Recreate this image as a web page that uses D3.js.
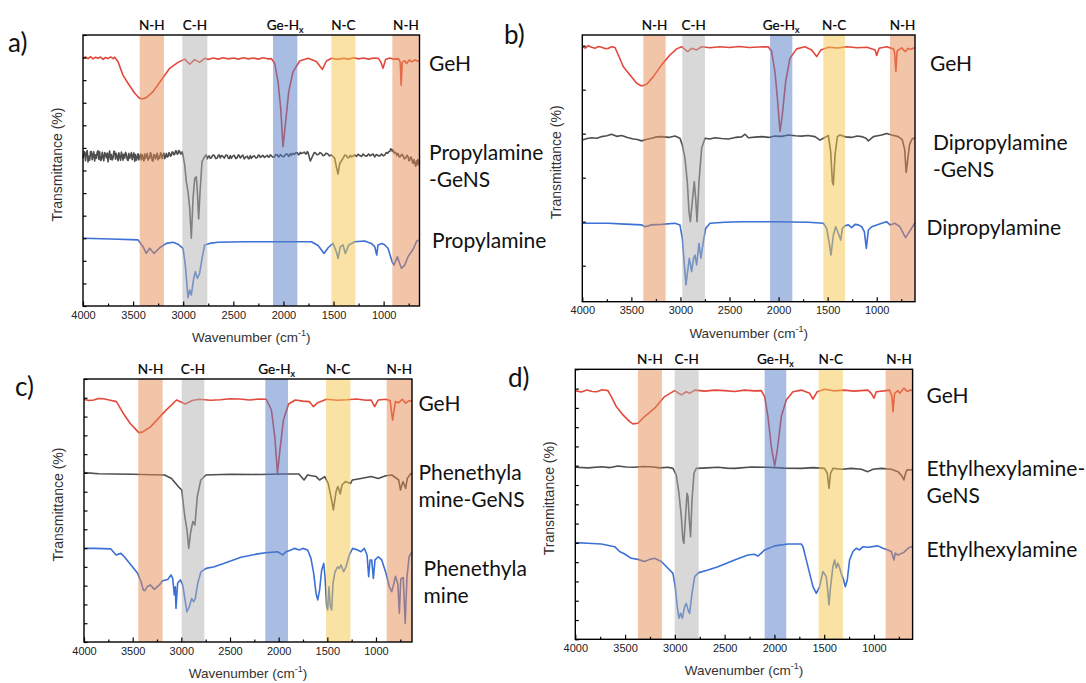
<!DOCTYPE html>
<html>
<head>
<meta charset="utf-8">
<script src="https://cdn.jsdelivr.net/npm/d3@7"></script>
<style>
  html, body { margin: 0; padding: 0; background: #fff; }
  svg { display: block; }
</style>
</head>
<body>
<svg id="chart" width="1086" height="683"></svg>
<script>
// ---------- shared axis values ----------
const xMajorTicks = [4000, 3500, 3000, 2500, 2000, 1500, 1000];
const xMinorTicks = [3750, 3250, 2750, 2250, 1750, 1250, 750];
const yTicksA = [0, 8.33, 16.67, 25, 33.33, 41.67, 50, 58.33, 66.67, 75, 83.33, 91.67, 100];
const yTicksB = [13.5, 30, 46.5, 63, 79.5, 96];
const yTicksCD = [0, 7.14, 14.29, 21.43, 28.57, 35.71, 42.86, 50, 57.14, 64.29, 71.43, 78.57, 85.71, 92.86, 100];

const bandNames = ["N-H", "C-H", "Ge-H", "N-C", "N-H"];
const bandKinds = ["nh", "ch", "ge", "nc", "nh"];

// band limits (cm-1) for each panel
const bandsA = [[3434, 3192], [3009, 2759], [2104, 1861], [1521, 1282], [913, 642]];
const bandsB = [[3378, 3151], [2981, 2750], [2087, 1860], [1544, 1323], [865, 610]];
const bandsC = [[3442, 3192], [2996, 2764], [2137, 1904], [1513, 1263], [890, 630]];
const bandsD = [[3371, 3130], [3002, 2761], [2098, 1881], [1556, 1312], [883, 612]];

// ---------- panel a : propylamine ----------
const gehA = [[4000,91.4],[3975,91.9],[3950,91.3],[3925,92.0],[3900,91.2],[3875,91.8],[3850,91.4],[3825,91.9],[3800,91.0],[3775,91.7],[3750,91.3],[3725,91.9],[3700,91.3],[3684,91.8],[3651,90.2],[3601,85.2],[3551,82.2],[3484,78.5],[3434,76.6],[3400,76.5],[3368,76.9],[3301,79.1],[3218,83.4],[3135,87.7],[3052,89.9],[2985,91.1],[2935,89.2],[2886,90.9],[2836,89.9],[2786,91.4],[2750,91.0],[2700,91.5],[2650,91.1],[2600,91.6],[2550,91.2],[2500,91.5],[2450,91.1],[2400,91.6],[2350,91.2],[2300,91.5],[2250,91.1],[2200,91.6],[2160,91.2],[2120,91.3],[2087,89.5],[2054,82.8],[2027,72.9],[2004,58.8],[1981,66.8],[1947,79.1],[1904,86.5],[1837,90.4],[1754,91.4],[1671,90.2],[1611,87.3],[1571,90.4],[1520,91.4],[1460,91.0],[1400,91.4],[1350,91.1],[1300,91.6],[1250,91.2],[1200,91.5],[1150,91.1],[1100,91.5],[1056,91.4],[1030,90.2],[1006,87.7],[980,91.0],[940,91.5],[900,91.1],[850,91.2],[834,89.9],[825,81.5],[815,89.9],[790,90.5],[770,89.5],[744,90.8],[720,90.1],[687,90.8],[654,90.3],[642,90.5]];
const propGeNS = [[4000,54.5],[3990,57.0],[3983,56.8],[3975,53.6],[3967,56.3],[3958,57.4],[3950,53.2],[3941,55.2],[3933,53.8],[3925,56.9],[3917,57.0],[3908,54.0],[3900,55.7],[3892,56.9],[3884,53.5],[3875,55.8],[3867,54.5],[3858,56.8],[3850,57.3],[3842,54.2],[3834,56.9],[3825,53.7],[3817,53.9],[3808,56.7],[3800,55.1],[3792,53.6],[3784,56.6],[3775,56.1],[3767,54.7],[3758,56.4],[3750,53.2],[3742,55.6],[3734,57.2],[3725,54.1],[3717,55.9],[3709,53.9],[3701,54.5],[3692,57.1],[3684,57.0],[3675,54.2],[3667,56.3],[3658,55.0],[3650,53.6],[3642,56.5],[3634,55.1],[3625,53.8],[3617,56.8],[3609,55.7],[3601,53.8],[3592,56.0],[3584,54.6],[3575,56.7],[3567,56.0],[3558,53.9],[3550,53.7],[3542,56.3],[3534,54.5],[3525,55.4],[3517,56.6],[3509,54.0],[3501,55.5],[3492,56.5],[3484,53.4],[3476,55.9],[3468,53.8],[3459,54.7],[3451,56.2],[3442,53.9],[3434,55.1],[3425,56.1],[3417,53.9],[3409,55.8],[3401,54.5],[3392,53.5],[3384,56.1],[3376,54.4],[3368,55.4],[3359,56.3],[3351,53.8],[3343,55.0],[3335,54.5],[3327,56.6],[3318,55.9],[3310,53.6],[3301,53.5],[3293,55.9],[3285,55.8],[3276,54.3],[3268,55.1],[3260,56.4],[3251,53.9],[3243,55.2],[3235,54.5],[3226,56.5],[3218,56.2],[3210,54.4],[3202,55.7],[3193,56.4],[3185,54.4],[3176,55.1],[3168,56.3],[3159,55.0],[3150,55.2],[3142,56.6],[3135,56.3],[3126,55.3],[3118,55.6],[3110,56.9],[3102,56.7],[3093,55.8],[3085,56.0],[3076,57.3],[3068,57.2],[3059,56.0],[3050,56.4],[3043,57.4],[3035,57.0],[3026,56.1],[3018,56.2],[3010,56.9],[3002,55.7],[2985,52.0],[2969,45.9],[2952,42.2],[2935,36.0],[2919,25.0],[2902,39.7],[2885,47.1],[2869,47.7],[2859,42.2],[2846,32.1],[2832,42.2],[2812,53.3],[2786,55.1],[2772,55.8],[2760,54.3],[2750,55.2],[2740,55.4],[2730,54.5],[2719,54.7],[2705,55.7],[2690,55.6],[2675,54.4],[2660,54.6],[2650,55.6],[2640,55.7],[2630,54.6],[2619,55.5],[2605,55.3],[2590,54.6],[2575,55.7],[2560,55.5],[2550,54.5],[2540,54.4],[2530,55.5],[2520,54.5],[2505,55.3],[2490,55.6],[2475,54.4],[2460,54.8],[2450,55.8],[2440,55.5],[2430,54.6],[2420,55.1],[2405,55.7],[2390,54.3],[2375,55.0],[2360,55.3],[2350,54.4],[2340,54.4],[2330,55.5],[2320,54.5],[2305,55.2],[2290,55.4],[2275,54.6],[2260,54.8],[2250,55.7],[2240,55.6],[2230,54.8],[2220,55.1],[2205,55.6],[2190,54.8],[2175,55.2],[2160,55.6],[2150,54.9],[2140,55.0],[2130,55.8],[2120,55.4],[2105,54.9],[2090,55.0],[2075,55.9],[2060,55.8],[2050,55.0],[2040,55.2],[2030,55.9],[2020,55.5],[2005,55.1],[1990,55.3],[1975,56.1],[1960,56.0],[1950,55.3],[1940,55.4],[1930,56.2],[1921,55.7],[1905,56.3],[1890,55.9],[1875,56.6],[1860,56.5],[1850,55.8],[1840,56.0],[1830,56.7],[1821,56.3],[1805,56.5],[1790,56.8],[1780,56.1],[1770,56.2],[1762,57.0],[1754,56.6],[1731,53.5],[1704,55.7],[1692,56.6],[1680,56.5],[1665,55.8],[1650,55.9],[1635,56.6],[1621,56.3],[1605,55.5],[1590,55.6],[1575,56.4],[1560,56.2],[1540,55.4],[1521,55.7],[1488,54.5],[1472,51.4],[1455,48.7],[1438,52.6],[1405,54.5],[1388,55.7],[1372,55.5],[1358,54.7],[1345,54.8],[1332,55.6],[1322,55.1],[1305,55.3],[1290,55.8],[1272,55.2],[1255,56.0],[1238,55.5],[1220,55.2],[1205,56.1],[1189,55.5],[1170,55.3],[1150,56.1],[1135,55.4],[1122,55.7],[1105,56.1],[1090,55.0],[1072,55.9],[1056,55.5],[1038,55.4],[1020,56.1],[1005,55.4],[989,55.7],[975,56.6],[960,56.4],[950,56.9],[939,57.0],[929,58.0],[920,57.8],[913,57.0],[906,57.6],[893,56.4],[880,56.7],[868,55.5],[856,56.3],[843,55.0],[830,55.2],[818,56.0],[806,55.5],[793,54.3],[780,54.6],[768,55.6],[756,55.1],[748,53.6],[740,53.8],[730,55.0],[720,54.5],[712,52.9],[705,52.6],[697,54.0],[690,53.3],[682,51.6],[675,51.8],[670,53.6],[665,52.3],[660,54.0],[655,53.8],[648,52.0],[642,53.0]];
const propylamine = [[4000,25.0],[3717,24.7],[3451,24.4],[3401,21.9],[3368,19.4],[3335,21.3],[3291,19.4],[3235,21.5],[3168,23.1],[3102,23.5],[3052,22.8],[3002,21.3],[2979,15.1],[2952,3.1],[2935,5.9],[2919,4.1],[2895,10.2],[2879,12.7],[2859,10.2],[2836,12.1],[2812,17.6],[2786,22.5],[2736,23.1],[2653,23.5],[2386,23.7],[2054,23.7],[1721,23.7],[1654,22.3],[1594,19.4],[1554,21.5],[1505,23.1],[1472,20.0],[1455,17.6],[1432,21.9],[1405,22.5],[1382,19.4],[1348,22.5],[1289,23.7],[1189,24.0],[1122,23.1],[1089,21.9],[1069,18.8],[1056,22.5],[1016,23.1],[989,22.5],[956,21.3],[916,16.4],[896,15.1],[863,18.2],[823,13.9],[790,15.1],[756,18.2],[700,21.3],[670,24.0],[642,24.4]];

// ---------- panel b : dipropylamine ----------
const gehB = [[4000,95.6],[3970,95.1],[3939,96.0],[3905,95.4],[3871,95.0],[3837,95.7],[3803,95.4],[3769,94.9],[3735,95.0],[3700,95.6],[3667,95.3],[3633,92.5],[3582,88.1],[3514,85.0],[3446,81.9],[3395,80.9],[3344,81.5],[3276,84.4],[3192,88.8],[3107,92.5],[3039,94.8],[2988,95.6],[2927,93.8],[2886,95.0],[2835,94.4],[2784,95.6],[2700,95.2],[2600,95.6],[2500,95.3],[2400,95.7],[2300,95.3],[2200,95.5],[2105,95.6],[2071,93.8],[2037,86.3],[2009,75.0],[1986,63.8],[1962,70.0],[1928,82.5],[1884,91.3],[1816,94.8],[1731,95.6],[1663,94.4],[1612,91.9],[1568,94.4],[1493,95.4],[1400,95.1],[1300,95.6],[1200,95.2],[1100,95.4],[1017,94.4],[1000,92.3],[976,95.0],[899,95.6],[830,94.8],[818,93.5],[805,86.3],[792,94.0],[770,94.6],[746,95.2],[730,94.5],[706,93.8],[680,95.0],[660,94.6],[610,95.3]];
const dipropGeNS = [[4000,60.6],[3950,61.2],[3905,61.5],[3850,61.3],[3803,61.9],[3750,62.2],[3701,62.8],[3650,62.0],[3599,62.3],[3540,61.6],[3480,61.0],[3440,60.8],[3395,60.3],[3340,60.9],[3293,61.3],[3240,61.8],[3192,61.9],[3120,61.6],[3056,62.1],[3005,61.3],[2981,58.8],[2954,53.8],[2930,45.0],[2913,33.8],[2899,30.0],[2879,37.5],[2859,45.0],[2845,38.8],[2831,30.0],[2811,45.0],[2784,57.5],[2750,61.3],[2700,61.0],[2648,61.5],[2580,61.2],[2512,61.0],[2440,61.6],[2376,61.8],[2342,62.8],[2308,61.5],[2240,61.7],[2172,61.9],[2100,61.6],[2037,62.1],[1970,62.0],[1901,62.5],[1830,62.2],[1765,62.1],[1700,62.3],[1629,61.9],[1578,60.6],[1544,61.3],[1493,62.3],[1469,56.3],[1452,45.0],[1442,43.8],[1425,55.0],[1401,61.9],[1374,62.5],[1320,61.8],[1255,61.6],[1200,62.1],[1153,61.9],[1110,61.3],[1085,60.3],[1034,61.9],[990,62.2],[949,62.5],[899,63.1],[848,62.5],[780,61.9],[740,60.8],[715,57.0],[700,48.5],[685,53.0],[665,59.0],[640,61.0],[610,61.5]];
const dipropylamine = [[4000,29.4],[3735,29.4],[3565,29.1],[3395,28.8],[3361,28.1],[3293,28.8],[3192,29.0],[3056,29.4],[3005,28.8],[2981,23.8],[2960,13.8],[2944,6.3],[2927,11.3],[2910,16.3],[2886,11.3],[2866,16.3],[2852,17.5],[2835,13.8],[2811,21.9],[2791,16.3],[2767,22.5],[2743,27.5],[2699,29.4],[2546,29.8],[2376,30.0],[2037,30.0],[1697,29.8],[1544,29.4],[1510,27.5],[1486,22.5],[1466,17.5],[1442,25.0],[1418,28.1],[1391,25.6],[1367,23.1],[1350,27.5],[1323,28.5],[1289,28.8],[1255,27.8],[1221,29.0],[1187,28.8],[1153,28.1],[1126,26.3],[1106,20.0],[1085,26.9],[1051,28.1],[1000,28.8],[949,29.4],[899,30.0],[865,28.8],[814,29.4],[763,28.1],[729,25.6],[706,24.0],[680,25.5],[654,27.0],[610,29.6]];

// ---------- panel c : phenethylamine ----------
const gehC = [[4000,92.3],[3950,91.8],[3900,92.0],[3850,92.6],[3800,92.5],[3730,91.9],[3667,91.4],[3596,86.9],[3525,83.1],[3437,79.6],[3400,79.8],[3314,81.9],[3172,87.6],[3049,92.0],[2959,90.5],[2889,91.8],[2818,92.3],[2700,91.9],[2600,92.1],[2500,92.5],[2400,92.4],[2300,92.0],[2200,92.4],[2128,92.3],[2075,88.3],[2040,78.1],[2012,64.1],[1987,73.0],[1951,84.4],[1898,90.5],[1828,92.0],[1750,91.6],[1686,91.4],[1644,89.5],[1598,91.0],[1509,92.3],[1400,91.9],[1300,92.1],[1200,92.4],[1100,91.9],[1049,92.0],[1014,89.5],[978,92.0],[900,92.3],[855,91.8],[829,84.4],[801,91.4],[767,91.0],[730,92.3],[695,90.8],[660,91.8],[630,91.5]];
const phenGeNS = [[4000,64.4],[3850,64.0],[3700,63.9],[3500,63.8],[3300,63.6],[3172,63.5],[3101,62.2],[3031,59.1],[2995,57.8],[2977,51.5],[2959,46.4],[2942,42.6],[2924,35.6],[2906,41.3],[2882,45.8],[2860,44.5],[2836,55.3],[2800,61.6],[2747,63.5],[2500,63.8],[2200,63.7],[1950,63.9],[1792,63.9],[1739,61.6],[1704,63.5],[1615,62.9],[1580,61.6],[1527,62.9],[1491,60.3],[1456,54.0],[1438,50.2],[1410,57.2],[1392,59.1],[1367,56.3],[1350,59.7],[1314,61.0],[1261,60.3],[1243,61.6],[1155,62.2],[1049,62.9],[978,62.2],[900,63.2],[836,63.5],[767,61.6],[748,57.8],[723,61.0],[695,58.4],[678,62.2],[642,64.1],[630,63.8]];
const phenethylamine = [[4000,35.6],[3894,35.6],[3723,35.4],[3671,33.1],[3620,33.7],[3586,32.4],[3517,29.3],[3449,26.1],[3414,22.9],[3390,19.8],[3373,19.5],[3353,21.0],[3318,21.7],[3277,20.0],[3226,21.7],[3192,23.3],[3140,23.8],[3106,25.5],[3089,24.2],[3072,17.9],[3062,21.0],[3055,12.8],[3038,22.3],[3010,23.6],[2986,21.7],[2962,16.0],[2942,11.5],[2918,13.4],[2894,16.6],[2873,15.3],[2856,16.6],[2832,22.3],[2798,26.7],[2746,28.0],[2661,28.6],[2558,29.9],[2387,32.2],[2216,33.5],[2113,34.0],[2010,34.3],[1959,33.1],[1924,34.3],[1873,35.0],[1839,35.6],[1787,35.0],[1753,35.6],[1702,35.0],[1668,31.8],[1640,26.1],[1616,18.5],[1599,16.0],[1579,19.8],[1558,27.4],[1537,29.9],[1524,24.8],[1507,13.4],[1496,12.2],[1483,21.0],[1469,13.4],[1455,12.2],[1442,22.3],[1421,26.7],[1394,28.6],[1377,28.0],[1359,29.3],[1332,26.7],[1308,28.6],[1274,33.1],[1240,35.6],[1188,35.0],[1154,34.3],[1120,35.6],[1092,33.1],[1075,24.8],[1061,31.2],[1044,31.2],[1027,24.2],[1010,31.2],[976,32.4],[941,31.2],[897,26.1],[863,21.0],[839,19.1],[818,22.0],[800,25.0],[775,22.0],[760,10.9],[745,24.0],[720,24.5],[700,7.1],[682,24.5],[660,32.4],[642,33.7],[630,34.0]];

// ---------- panel d : ethylhexylamine ----------
const gehD = [[4000,92.1],[3940,91.6],[3883,92.3],[3830,91.8],[3783,91.7],[3730,92.4],[3672,92.1],[3638,89.9],[3588,86.2],[3521,83.1],[3454,80.6],[3421,79.8],[3371,80.0],[3304,82.5],[3203,85.6],[3103,89.9],[3002,92.1],[2935,90.5],[2885,91.7],[2852,91.1],[2801,92.3],[2700,91.9],[2600,92.3],[2500,92.1],[2400,91.8],[2300,92.3],[2200,92.0],[2132,92.1],[2098,89.9],[2065,82.5],[2031,71.4],[1998,64.2],[1971,70.1],[1931,82.5],[1881,88.6],[1814,91.7],[1730,92.3],[1646,91.1],[1613,89.0],[1570,91.7],[1496,92.6],[1400,92.0],[1300,92.3],[1200,91.9],[1100,92.2],[1061,92.3],[1027,91.1],[1000,89.3],[977,91.7],[900,92.0],[843,92.3],[819,89.9],[809,84.3],[793,91.1],[759,92.1],[740,91.1],[700,93.0],[666,91.8],[630,92.3],[612,92.2]];
const ehaGeNS = [[4000,63.7],[3870,63.5],[3739,63.9],[3650,63.6],[3572,64.2],[3490,63.8],[3404,63.7],[3320,64.0],[3237,63.9],[3150,63.5],[3069,63.7],[3019,63.3],[2986,60.9],[2959,54.1],[2935,45.4],[2919,36.8],[2909,35.6],[2895,44.2],[2878,54.1],[2868,52.8],[2855,44.2],[2842,38.0],[2828,51.6],[2808,61.5],[2785,63.3],[2680,63.5],[2567,63.7],[2480,63.4],[2400,63.3],[2230,63.8],[2065,63.7],[1900,63.4],[1730,63.3],[1610,63.6],[1496,63.3],[1469,61.5],[1452,55.9],[1436,61.5],[1412,63.3],[1320,63.0],[1228,63.3],[1128,63.0],[1061,62.1],[1010,63.0],[927,63.3],[826,63.0],[759,62.1],[720,60.5],[700,59.0],[680,61.8],[666,62.8],[630,62.7],[612,63.0]];
const ethylhexylamine = [[4000,35.8],[3873,35.6],[3739,35.3],[3605,34.3],[3555,32.5],[3504,31.6],[3438,30.0],[3371,29.6],[3304,28.8],[3253,29.6],[3203,30.0],[3136,28.8],[3069,26.3],[3019,24.4],[2996,19.5],[2976,12.1],[2959,7.8],[2942,9.6],[2925,7.8],[2902,12.1],[2885,13.3],[2868,10.9],[2852,9.6],[2828,17.0],[2801,23.2],[2761,24.7],[2667,25.7],[2567,26.9],[2400,29.4],[2266,31.2],[2200,31.5],[2165,30.8],[2098,33.1],[1998,34.6],[1864,35.3],[1730,35.3],[1713,34.3],[1680,29.4],[1646,24.4],[1613,19.5],[1579,17.0],[1546,19.5],[1513,25.1],[1479,23.2],[1462,17.0],[1452,12.7],[1436,19.5],[1412,27.0],[1395,29.4],[1379,26.4],[1362,28.2],[1345,26.4],[1329,24.4],[1305,22.0],[1288,19.5],[1268,22.0],[1245,29.4],[1211,32.5],[1178,33.7],[1144,33.1],[1111,34.3],[1061,34.1],[960,34.6],[910,33.7],[860,33.1],[826,32.5],[799,29.4],[786,31.9],[759,31.2],[700,32.2],[648,34.0],[612,34.4]];

// ---------- styling ----------
const seriesColors = { geh: "#e2493c", genS: "#4e4e4e", amine: "#3b70d6" };
const bandColors = { nh: "rgb(229,137,81)", ch: "rgb(177,177,177)", ge: "rgb(83,123,199)", nc: "rgb(243,197,73)" };

const panels = [
  { letter: "a)", letterPos: [8, 52], frame: { left: 83, right: 419.5, top: 35, bottom: 306 }, xDomain: [4000, 642],
    yTicks: yTicksA, bands: bandsA,
    series: [[gehA, "geh"], [propGeNS, "genS"], [propylamine, "amine"]],
    labels: [ { lines: ["GeH"], x: 429, y: 71 }, { lines: ["Propylamine", "-GeNS"], x: 429, y: 160 }, { lines: ["Propylamine"], x: 432, y: 248 } ] },
  { letter: "b)", letterPos: [504, 44], frame: { left: 582.3, right: 915, top: 35, bottom: 301.7 }, xDomain: [4000, 610],
    yTicks: yTicksB, bands: bandsB,
    series: [[gehB, "geh"], [dipropGeNS, "genS"], [dipropylamine, "amine"]],
    labels: [ { lines: ["GeH"], x: 930, y: 71 }, { lines: ["Dipropylamine", "-GeNS"], x: 933, y: 150 }, { lines: ["Dipropylamine"], x: 926.5, y: 235 } ] },
  { letter: "c)", letterPos: [15, 396], frame: { left: 84, right: 412, top: 379, bottom: 642 }, xDomain: [4000, 630],
    yTicks: yTicksCD, bands: bandsC,
    series: [[gehC, "geh"], [phenGeNS, "genS"], [phenethylamine, "amine"]],
    labels: [ { lines: ["GeH"], x: 418.4, y: 411 }, { lines: ["Phenethyla", "mine-GeNS"], x: 418.4, y: 480 }, { lines: ["Phenethyla", "mine"], x: 423.6, y: 576 } ] },
  { letter: "d)", letterPos: [508, 387], frame: { left: 575.3, right: 912.6, top: 369.3, bottom: 639.3 }, xDomain: [4000, 612],
    yTicks: yTicksCD, bands: bandsD,
    series: [[gehD, "geh"], [ehaGeNS, "genS"], [ethylhexylamine, "amine"]],
    labels: [ { lines: ["GeH"], x: 926.5, y: 403 }, { lines: ["Ethylhexylamine-", "GeNS"], x: 926.5, y: 476 }, { lines: ["Ethylhexylamine"], x: 926.5, y: 557 } ] }
];

const svg = d3.select("#chart");
svg.append("rect").attr("width", 1086).attr("height", 683).attr("fill", "#fff");

const labelFont = "Lato, 'Open Sans', sans-serif";
const axisFont = "'Liberation Sans', Arial, sans-serif";

function drawPanel(p) {
  const f = p.frame;
  const g = svg.append("g");
  const x = d3.scaleLinear().domain(p.xDomain).range([f.left, f.right]);
  const y = d3.scaleLinear().domain([0, 100]).range([f.bottom, f.top]);

  // spectra
  const line = d3.line().x(d => x(d[0])).y(d => y(d[1]));
  p.series.forEach(([data, key]) => {
    g.append("path").datum(data)
      .attr("d", line)
      .attr("fill", "none")
      .attr("stroke", seriesColors[key])
      .attr("stroke-width", 1.6)
      .attr("stroke-linejoin", "round");
  });

  // translucent assignment bands on top of the spectra
  p.bands.forEach((b, i) => {
    const x0 = x(b[0]), x1 = x(Math.max(b[1], p.xDomain[1]));
    g.append("rect")
      .attr("x", x0).attr("y", f.top)
      .attr("width", x1 - x0).attr("height", f.bottom - f.top)
      .attr("fill", bandColors[bandKinds[i]])
      .attr("fill-opacity", 0.5);
  });

  // band captions
  p.bands.forEach((b, i) => {
    const cx = x((b[0] + Math.max(b[1], p.xDomain[1])) / 2);
    const t = g.append("text")
      .attr("x", cx).attr("y", f.top - 5.5)
      .attr("text-anchor", "middle")
      .attr("font-family", labelFont)
      .attr("font-size", 13.5)
      .attr("fill", "#000")
      .attr("stroke", "#000").attr("stroke-width", 0.2)
      .text(bandNames[i]);
    if (bandKinds[i] === "ge") {
      t.append("tspan").attr("font-size", 9).attr("dy", 3).text("x");
    }
  });

  // frame
  g.append("rect")
    .attr("x", f.left).attr("y", f.top)
    .attr("width", f.right - f.left).attr("height", f.bottom - f.top)
    .attr("fill", "none").attr("stroke", "#000").attr("stroke-width", 1.4);

  // bottom axis: major ticks with labels, minor ticks without
  const xAxis = g.append("g").attr("transform", `translate(0,${f.bottom})`)
    .call(d3.axisBottom(x).tickValues(xMajorTicks).tickSize(-4.5).tickPadding(5).tickFormat(d3.format("d")));
  xAxis.select(".domain").remove();
  xAxis.selectAll("text").attr("font-family", axisFont).attr("font-size", 11).attr("fill", "#222");
  xAxis.selectAll("line").attr("stroke", "#000").attr("stroke-width", 1.2);

  const xMinor = g.append("g").attr("transform", `translate(0,${f.bottom})`)
    .call(d3.axisBottom(x).tickValues(xMinorTicks).tickSize(-2.5).tickFormat(""));
  xMinor.select(".domain").remove();
  xMinor.selectAll("line").attr("stroke", "#000").attr("stroke-width", 1.2);

  // left axis: inward ticks only
  const yAxis = g.append("g").attr("transform", `translate(${f.left},0)`)
    .call(d3.axisLeft(y).tickValues(p.yTicks).tickSize(-3.5).tickFormat(""));
  yAxis.select(".domain").remove();
  yAxis.selectAll("line").attr("stroke", "#000").attr("stroke-width", 1.2);

  // axis titles
  const cy = (f.top + f.bottom) / 2 - 6;
  g.append("text")
    .attr("transform", `translate(${f.left - 21},${cy}) rotate(-90)`)
    .attr("text-anchor", "middle")
    .attr("font-family", axisFont).attr("font-size", 14).attr("fill", "#333")
    .text("Transmittance (%)");

  const xt = g.append("text")
    .attr("x", (f.left + f.right) / 2).attr("y", f.bottom + 36)
    .attr("text-anchor", "middle")
    .attr("font-family", axisFont).attr("font-size", 13.5).attr("fill", "#333")
    .text("Wavenumber (cm");
  xt.append("tspan").attr("font-size", 9).attr("dy", -6).text("-1");
  xt.append("tspan").attr("dy", 6).text(")");

  // sample names
  p.labels.forEach(l => {
    const t = g.append("text")
      .attr("x", l.x).attr("y", l.y)
      .attr("font-family", labelFont).attr("font-size", 21).attr("fill", "#111");
    l.lines.forEach((s, k) => {
      t.append("tspan").attr("x", l.x).attr("dy", k === 0 ? 0 : 27).text(s);
    });
  });

  // panel letter
  g.append("text")
    .attr("x", p.letterPos[0]).attr("y", p.letterPos[1])
    .attr("font-family", labelFont).attr("font-size", 26).attr("fill", "#111")
    .text(p.letter);
}

panels.forEach(drawPanel);
</script>
</body>
</html>
